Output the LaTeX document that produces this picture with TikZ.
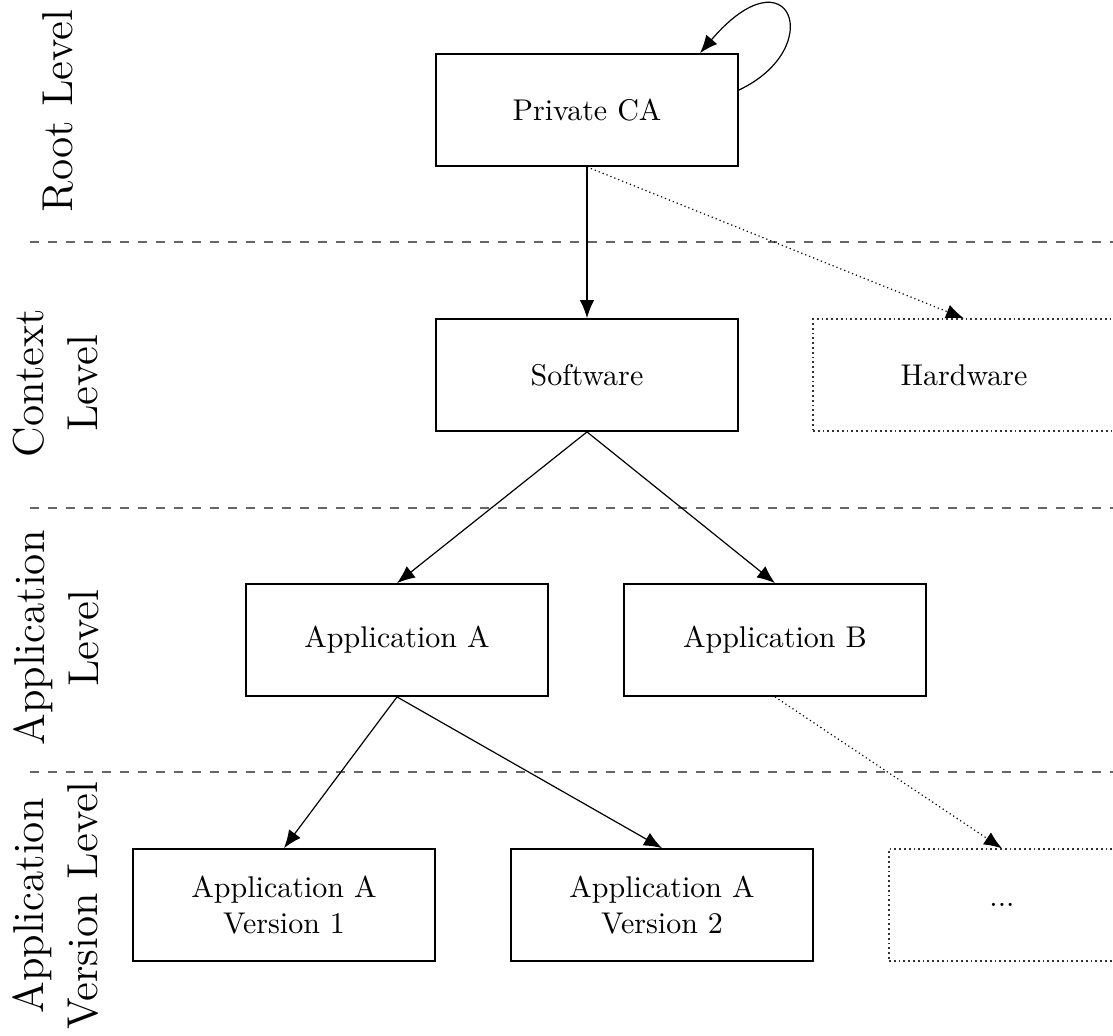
\documentclass[tikz,border=0pt]{standalone}
\usetikzlibrary{arrows.meta,calc}
\begin{document}
\begin{tikzpicture}[
  x=0.33333pt, y=-0.33333pt,
  box/.style={draw, line width=0.6pt, minimum width=100.67pt, minimum height=37.33pt,
              inner sep=2pt, align=center, font=\fontsize{10}{12}\selectfont},
  ghost/.style={box, densely dotted, line width=0.4pt, draw=black!80},
  lvl/.style={rotate=90, align=center, font=\fontsize{14.4}{18}\selectfont},
  edge/.style={line width=0.4pt, -{Latex[length=6pt,width=4.8pt]}},
  sep/.style={dashed, line width=0.4pt, draw=black!60},
]
\useasboundingbox (0,0) rectangle (1113,1035);

% level separators
\coordinate (s1a) at (30,242);  \coordinate (s1b) at (1113,242);
\coordinate (s2a) at (30,508);  \coordinate (s2b) at (1113,508);
\coordinate (s3a) at (30,772);  \coordinate (s3b) at (1113,772);
\draw[sep] (s1a) -- (s1b);
\draw[sep] (s2a) -- (s2b);
\draw[sep] (s3a) -- (s3b);

% level captions
\node[lvl] (lroot) at (58,111) {Root Level};
\node[lvl] (lctx)  at (56,383) {Context\\Level};
\node[lvl] (lapp)  at (56,638) {Application\\Level};
\node[lvl] (lver)  at (56,906) {Application\\Version Level};

% certificate hierarchy
\node[box] (pca) at (587,110) {Private CA};
\node[box] (sw)  at (587,375) {Software};
\node[ghost] (hw) at (964,375) {Hardware};
\node[box] (appa) at (397,640) {Application A};
\node[box] (appb) at (775,640) {Application B};
\node[box] (va1) at (284,905) {Application A\\Version 1};
\node[box] (va2) at (662,905) {Application A\\Version 2};
\node[ghost, minimum width=75.33pt] (more) at (1002,905) {...};

% self-signed root
\coordinate (loopa) at ($(pca.east)+(0,-20)$);
\coordinate (loopb) at ($(pca.north)+(113,0)$);
\draw[edge] (loopa) .. controls (828,48) and (790,-52) .. (loopb);

% issuing relations
\draw[edge] (pca.south) -- (sw.north);
\draw[edge, densely dotted] (pca.south) -- (hw.north);
\draw[edge] (sw.south) -- (appa.north);
\draw[edge] (sw.south) -- (appb.north);
\draw[edge] (appa.south) -- (va1.north);
\draw[edge] (appa.south) -- (va2.north);
\draw[edge, densely dotted] (appb.south) -- (more.north);
\end{tikzpicture}
\end{document}
